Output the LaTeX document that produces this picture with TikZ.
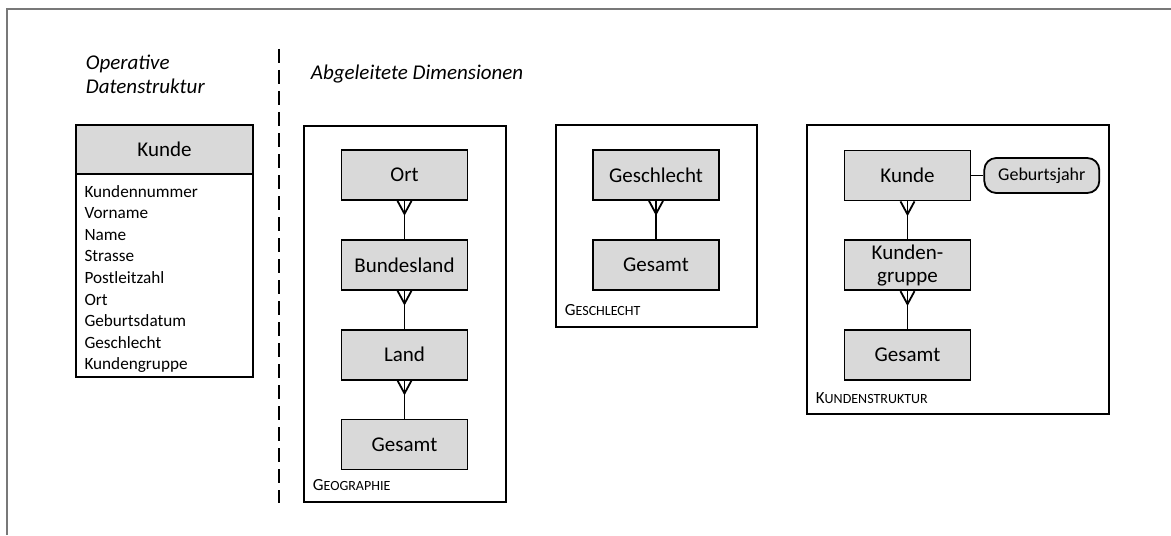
\documentclass[tikz,border=0pt]{standalone}
\usepackage{fontspec}
\setmainfont{Carlito}
\usetikzlibrary{positioning}

\definecolor{boxgray}{RGB}{217,217,217}
\definecolor{framegray}{RGB}{120,120,120}

% small caps label of a dimension
\newcommand{\dimname}[2]{{\fontsize{8.5}{10}\selectfont #1\fontsize{7}{8}\selectfont #2}}
% crow's foot below an entity
\newcommand{\crowfoot}[1]{%
  \draw ([xshift=-3.5pt]#1.south) -- ([yshift=-6.5pt]#1.south) -- ([xshift=3.5pt]#1.south);}

\begin{document}
\begin{tikzpicture}[x=0.5pt, y=-0.5pt, line width=0.9pt, node distance=19pt,
  entity/.style={draw, fill=boxgray, minimum width=63pt, minimum height=25pt,
    inner sep=1pt, align=center, font=\fontsize{10.5}{11.5}\selectfont},
  attrib/.style={draw, fill=boxgray, rounded corners=6pt, minimum width=57.5pt,
    minimum height=17.5pt, inner sep=1pt, font=\fontsize{9}{10}\selectfont},
  heading/.style={inner sep=0pt, align=left, font=\itshape\fontsize{10.5}{12}\selectfont}]
  \useasboundingbox (0,0) rectangle (1171,535);

  % Frame
  \draw[framegray, line width=0.8pt] (7,535) |- (1171,9);

  % Operative data structure
  \node[heading, anchor=north west] (opHead) at (85,54) {Operative\\Datenstruktur};
  \node[draw, fill=boxgray, outer sep=0pt, minimum width=88.5pt, minimum height=24.5pt,
    font=\fontsize{10.5}{11.5}\selectfont] (kundeKopf) at (164.5,149.5) {Kunde};
  \node[draw, anchor=north, outer sep=0pt, minimum width=88.5pt, text width=80pt,
    inner xsep=4pt, inner ysep=0pt, text height=11.5pt, text depth=90pt,
    align=left, font=\fontsize{8.6}{10.8}\selectfont] (kundeAttr) at (kundeKopf.south)
    {Kundennummer\\Vorname\\Name\\Strasse\\Postleitzahl\\Ort\\Geburtsdatum\\Geschlecht\\Kundengruppe};

  % Separator
  \draw[dash pattern=on 7pt off 3.5pt, line width=1pt] (279,49) -- (279,503);
  \node[heading, anchor=base west] (dimHead) at (310,80) {Abgeleitete Dimensionen};

  % Geographie
  \draw (304,126) rectangle (506,502);
  \node[entity] (ort) at (404.5,175) {Ort};
  \node[entity, below=of ort] (bundesland) {Bundesland};
  \node[entity, below=of bundesland] (land) {Land};
  \node[entity, below=of land] (gesamtGeo) {Gesamt};
  \node[anchor=base west, inner sep=0pt] (geoName) at (312,490) {\dimname{G}{EOGRAPHIE}};

  \draw (ort) -- (bundesland);
  \draw (bundesland) -- (land);
  \draw (land) -- (gesamtGeo);
  \crowfoot{ort}
  \crowfoot{bundesland}
  \crowfoot{land}

  % Geschlecht
  \draw (556,125) rectangle (757,327);
  \node[entity] (geschlecht) at (656,175) {Geschlecht};
  \node[entity, below=of geschlecht] (gesamtGes) {Gesamt};
  \node[anchor=base west, inner sep=0pt] (gesName) at (564,315) {\dimname{G}{ESCHLECHT}};

  \draw (geschlecht) -- (gesamtGes);
  \crowfoot{geschlecht}

  % Kundenstruktur
  \draw (807,125) rectangle (1109,414);
  \node[entity] (kunde) at (907.5,175.5) {Kunde};
  \node[entity, below=of kunde] (kundengruppe) {Kunden-\\gruppe};
  \node[entity, below=of kundengruppe] (gesamtKun) {Gesamt};
  \node[attrib, right=6pt of kunde] (geburtsjahr) {Geburtsjahr};
  \node[anchor=base west, inner sep=0pt] (kunName) at (815,403) {\dimname{K}{UNDENSTRUKTUR}};

  \draw (kunde) -- (kundengruppe);
  \draw (kundengruppe) -- (gesamtKun);
  \draw (kunde) -- (geburtsjahr);
  \crowfoot{kunde}
  \crowfoot{kundengruppe}
\end{tikzpicture}
\end{document}
